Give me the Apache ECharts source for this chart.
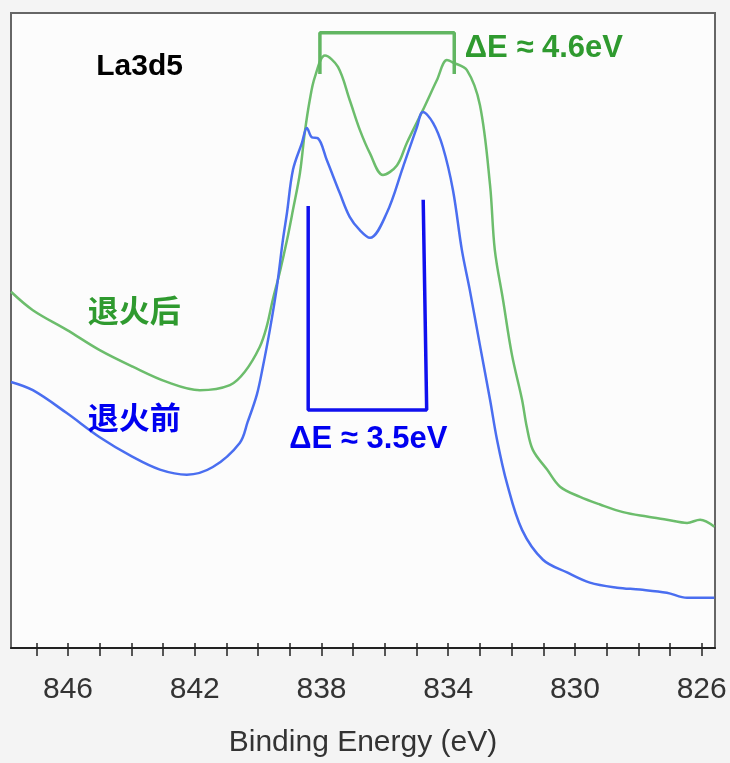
<!DOCTYPE html>
<html>
<head>
<meta charset="utf-8">
<script src="https://cdn.jsdelivr.net/npm/echarts@6/dist/echarts.min.js"></script>
<style>
  html, body { margin: 0; padding: 0; background: #f4f4f4; }
  #chart { width: 730px; height: 763px; }
</style>
</head>
<body>
<div id="chart"></div>
<script>
// La 3d5/2 XPS spectra, binding energy (eV) vs. intensity (arb. units)
const energyAfter = [847.8, 847.11, 846.04, 845.0, 843.96, 842.88, 841.84, 840.89, 840.42, 839.95,
  839.73, 839.54, 839.32, 839.09, 838.9, 838.68, 838.53, 838.37, 838.21, 837.89,
  837.48, 837.11, 836.79, 836.47, 836.06, 835.62, 835.31, 834.8, 834.36, 834.04,
  833.85, 833.41, 833.0, 832.68, 832.53, 832.27, 831.99, 831.67, 831.52, 831.33,
  830.88, 830.47, 829.84, 829.21, 828.48, 827.73, 827.1, 826.46, 826.05, 825.6];
const intensityAfter = [56.1, 53.2, 50.1, 46.9, 44.3, 41.9, 40.6, 41.4, 43.5, 47.4,
  50.6, 54.8, 59.1, 64.2, 69.0, 74.8, 81.1, 86.3, 89.9, 93.3,
  91.5, 86.3, 81.6, 77.9, 74.5, 76.0, 79.5, 84.7, 89.4, 92.6,
  92.2, 91.0, 85.5, 72.9, 62.7, 54.8, 46.2, 39.1, 34.8, 31.2,
  28.1, 25.4, 23.8, 22.6, 21.4, 20.7, 20.2, 19.7, 20.2, 19.1];

const energyBefore = [847.8, 847.11, 846.04, 845.0, 843.96, 843.1, 842.25, 841.43, 840.58, 840.33,
  840.04, 839.85, 839.63, 839.41, 839.22, 839.09, 838.9, 838.62, 838.46, 838.3,
  838.12, 837.83, 837.42, 837.11, 836.79, 836.47, 835.94, 835.43, 834.99, 834.8,
  834.48, 834.17, 833.85, 833.57, 833.32, 833.0, 832.68, 832.46, 832.15, 831.67,
  831.01, 830.25, 829.53, 828.67, 827.95, 827.1, 826.46, 825.6];
const intensityBefore = [41.9, 40.6, 37.0, 33.2, 30.1, 28.1, 27.3, 28.5, 32.3, 35.6,
  39.9, 44.3, 50.1, 56.8, 64.2, 68.5, 75.3, 79.5, 81.9, 80.4,
  80.3, 76.8, 71.6, 67.9, 65.8, 64.6, 68.5, 75.7, 82.0, 84.4,
  82.7, 78.9, 72.1, 62.7, 56.4, 47.7, 39.1, 32.8, 26.0, 18.6,
  13.9, 11.9, 10.3, 9.5, 9.2, 8.7, 7.9, 7.9];

// Peak-separation brackets: [energy, intensity] corners
const bracketAfter = [[838.05, 90.4], [838.05, 96.9], [833.81, 96.9], [833.81, 90.4]];
const bracketBefore = [[838.42, 69.6], [838.42, 37.5], [834.68, 37.5], [834.79, 70.6]];

// Text annotations: [energy, intensity, text]
const labelTitle = [843.74, 91.5, 'La3d5'];
const labelSplitAfter = [830.98, 94.4, 'ΔE ≈ 4.6eV'];
const labelSplitBefore = [836.52, 32.8, 'ΔE ≈ 3.5eV'];
const labelAfter = [843.91, 53.2, '退火后'];
const labelBefore = [843.91, 36.4, '退火前'];

const majorTicks = [846, 842, 838, 834, 830, 826];
const minorTicks = [];
for (let v = 826; v <= 847; v++) minorTicks.push(v);

const xMin = 825.58, xMax = 847.8;
const green = '#6cbd6c', blue = '#4a6ef0';
const greenText = '#2f9a2f', blueText = '#0000f0';

function zip(xs, ys) { return xs.map((x, i) => [x, ys[i]]); }

// invisible point carrying a bold text label at a data position
function textSeries(item, color, size, family) {
  return {
    type: 'line', xAxisIndex: 0, yAxisIndex: 0,
    symbol: 'circle', symbolSize: 1, silent: true,
    itemStyle: { opacity: 0 },
    lineStyle: { opacity: 0 },
    data: [[item[0], item[1]]],
    label: {
      show: true, position: 'inside', formatter: item[2], opacity: 1,
      color: color, fontSize: size, fontWeight: 'bold', fontFamily: family
    }
  };
}

const chart = echarts.init(document.getElementById('chart'), null, { renderer: 'canvas' });
chart.setOption({
  animation: false,
  backgroundColor: '#f4f4f4',
  grid: {
    left: 11, right: 15, top: 13, bottom: 115,
    show: true, backgroundColor: '#fcfcfc', borderColor: '#666', borderWidth: 2
  },
  xAxis: [{
    type: 'value', inverse: true, min: xMin, max: xMax,
    position: 'bottom',
    name: 'Binding Energy (eV)', nameLocation: 'middle', nameGap: 80,
    nameTextStyle: { fontSize: 30, color: '#333', fontFamily: 'Liberation Sans, Arial, sans-serif' },
    axisLine: { lineStyle: { color: '#222', width: 2 } },
    axisTick: { show: true, length: 8, customValues: minorTicks, lineStyle: { color: '#222', width: 1.5 } },
    axisLabel: {
      customValues: majorTicks, margin: 27, fontSize: 30, color: '#333',
      fontFamily: 'Liberation Sans, Arial, sans-serif'
    },
    splitLine: { show: false }
  }, {
    type: 'value', inverse: true, min: xMin, max: xMax,
    position: 'bottom',
    axisLine: { show: false },
    axisTick: { show: true, inside: true, length: 5, customValues: minorTicks, lineStyle: { color: '#222', width: 1.5 } },
    axisLabel: { show: false },
    splitLine: { show: false }
  }],
  yAxis: { type: 'value', min: 0, max: 100, show: false, splitLine: { show: false } },
  series: [
    {
      name: '退火后', type: 'line', data: zip(energyAfter, intensityAfter),
      symbol: 'none', smooth: 0.35,
      lineStyle: { color: green, width: 2.5 }
    },
    {
      name: '退火前', type: 'line', data: zip(energyBefore, intensityBefore),
      symbol: 'none', smooth: 0.35,
      lineStyle: { color: blue, width: 2.5 }
    },
    {
      type: 'line', data: bracketAfter, symbol: 'none',
      lineStyle: { color: '#62b662', width: 3.5 }
    },
    {
      type: 'line', data: bracketBefore, symbol: 'none',
      lineStyle: { color: '#1010ee', width: 3.5 }
    },
    textSeries(labelTitle, '#000', 30, 'Liberation Sans, Arial, sans-serif'),
    textSeries(labelSplitAfter, greenText, 31, 'Liberation Sans, Arial, sans-serif'),
    textSeries(labelSplitBefore, blueText, 31, 'Liberation Sans, Arial, sans-serif'),
    textSeries(labelAfter, greenText, 31, '"Noto Sans CJK SC", sans-serif'),
    textSeries(labelBefore, blueText, 31, '"Noto Sans CJK SC", sans-serif')
  ]
});
</script>
</body>
</html>
